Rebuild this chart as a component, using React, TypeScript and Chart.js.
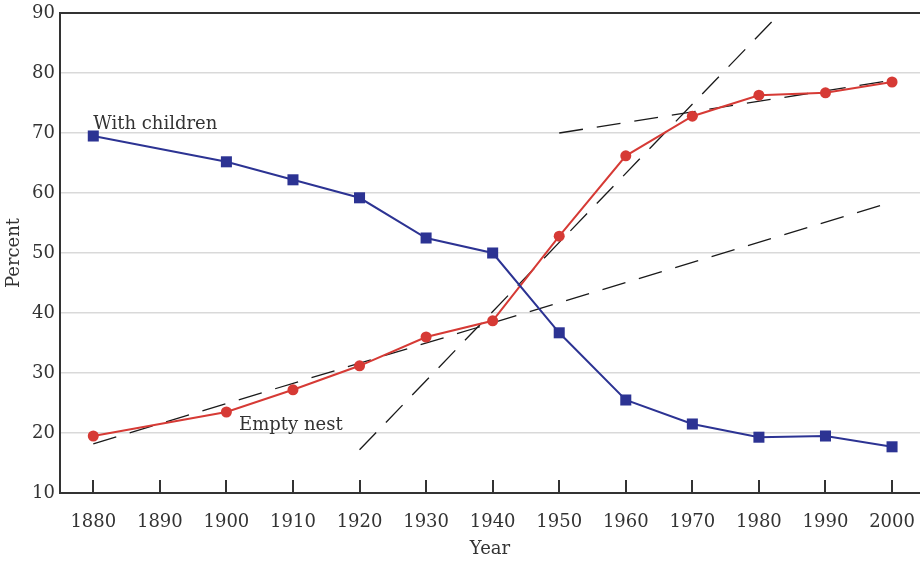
import React, { useEffect, useRef } from "react";
import { Chart, registerables } from "chart.js";

Chart.register(...registerables);

const years = [1880, 1900, 1910, 1920, 1930, 1940, 1950, 1960, 1970, 1980, 1990, 2000];
const withChildren = [69.5, 65.2, 62.2, 59.2, 52.5, 50.0, 36.7, 25.5, 21.5, 19.3, 19.5, 17.7];
const emptyNest = [19.5, 23.5, 27.2, 31.2, 36.0, 38.7, 52.8, 66.2, 72.8, 76.3, 76.7, 78.5];
const tickYears = [1880, 1890, 1900, 1910, 1920, 1930, 1940, 1950, 1960, 1970, 1980, 1990, 2000];

const trendEarlyX = [1880, 2000];
const trendEarlyY = [18.2, 58.5];
const trendMidX = [1920, 1983.2];
const trendMidY = [17.2, 90];
const trendLateX = [1950, 2000];
const trendLateY = [70.0, 78.8];

const labelWithChildren = { text: "With children", x: 1880, y: 71.4 };
const labelEmptyNest = { text: "Empty nest", x: 1901.9, y: 21.3 };

const FONT = "'DejaVu Serif', serif";
const BLUE = "#2c3393";
const RED = "#d63a35";
const AXIS = "#333333";

const pts = (xs: number[], ys: number[]) => xs.map((x, i) => ({ x, y: ys[i] }));

const extras = {
  id: "extras",
  afterDraw(chart: any) {
    const ctx = chart.ctx;
    const xs = chart.scales.x;
    const ys = chart.scales.y;
    const area = chart.chartArea;
    ctx.save();
    ctx.strokeStyle = AXIS;
    ctx.lineWidth = 2;
    tickYears.forEach((t) => {
      const px = Math.round(xs.getPixelForValue(t));
      ctx.beginPath();
      ctx.moveTo(px, area.bottom);
      ctx.lineTo(px, area.bottom - 13);
      ctx.stroke();
    });
    ctx.fillStyle = AXIS;
    ctx.font = `18px ${FONT}`;
    ctx.textAlign = "left";
    ctx.textBaseline = "middle";
    [labelWithChildren, labelEmptyNest].forEach((l) => {
      ctx.fillText(l.text, xs.getPixelForValue(l.x), ys.getPixelForValue(l.y));
    });
    ctx.restore();
  },
};

export default function App() {
  const ref = useRef<HTMLCanvasElement>(null);
  useEffect(() => {
    document.body.style.margin = "0";
    const dashed = {
      borderColor: "#1a1a1a",
      borderWidth: 1.3,
      borderDash: [24, 14],
      pointRadius: 0,
      fill: false,
      order: 5,
    };
    const chart = new Chart(ref.current!, {
      type: "line",
      data: {
        datasets: [
          {
            label: "With children",
            data: pts(years, withChildren),
            borderColor: BLUE,
            backgroundColor: BLUE,
            borderWidth: 2,
            pointStyle: "rect",
            pointRadius: 7.8,
            pointBorderWidth: 0,
            order: 1,
          },
          {
            label: "Empty nest",
            data: pts(years, emptyNest),
            borderColor: RED,
            backgroundColor: RED,
            borderWidth: 2,
            pointStyle: "circle",
            pointRadius: 5.5,
            pointBorderWidth: 0,
            order: 2,
          },
          { label: "trend1", data: pts(trendEarlyX, trendEarlyY), ...dashed },
          { label: "trend2", data: pts(trendMidX, trendMidY), ...dashed },
          { label: "trend3", data: pts(trendLateX, trendLateY), ...dashed },
        ],
      },
      options: {
        responsive: false,
        animation: false,
        layout: { autoPadding: false, padding: { top: 13, right: 0, left: 0, bottom: 0 } },
        plugins: { legend: { display: false }, tooltip: { enabled: false } },
        scales: {
          x: {
            type: "linear",
            min: 1875,
            max: 2004.2,
            afterBuildTicks: (scale: any) => {
              scale.ticks = tickYears.map((v) => ({ value: v }));
            },
            afterFit: (scale: any) => {
              scale.height = 69;
              scale.paddingLeft = 0;
              scale.paddingRight = 0;
            },
            grid: { display: false, drawTicks: false },
            border: { display: true, color: AXIS, width: 2 },
            ticks: {
              padding: 19,
              color: AXIS,
              font: { family: FONT, size: 18 },
              callback: (v: any) => String(v),
              maxRotation: 0,
              autoSkip: false,
            },
            title: {
              display: true,
              text: "Year",
              color: AXIS,
              font: { family: FONT, size: 18 },
              padding: { top: 0, bottom: 2 },
            },
          },
          y: {
            min: 10,
            max: 90,
            afterFit: (scale: any) => {
              scale.width = 60;
              scale.paddingTop = 0;
              scale.paddingBottom = 0;
            },
            grid: {
              drawTicks: false,
              color: (c: any) => (c.tick && c.tick.value === 90 ? AXIS : "#d9d9d9"),
              lineWidth: (c: any) => (c.tick && c.tick.value === 90 ? 2 : 1.5),
            },
            border: { display: true, color: AXIS, width: 2 },
            ticks: {
              stepSize: 10,
              padding: 5,
              color: AXIS,
              font: { family: FONT, size: 18 },
            },
            title: {
              display: true,
              text: "Percent",
              color: AXIS,
              font: { family: FONT, size: 18 },
              padding: { top: 4, bottom: 0 },
            },
          },
        },
      },
      plugins: [extras],
    } as any);
    return () => chart.destroy();
  }, []);
  return (
    <div style={{ position: "absolute", left: 0, top: 0, width: 920, height: 562 }}>
      <canvas ref={ref} width={920} height={562} />
    </div>
  );
}
